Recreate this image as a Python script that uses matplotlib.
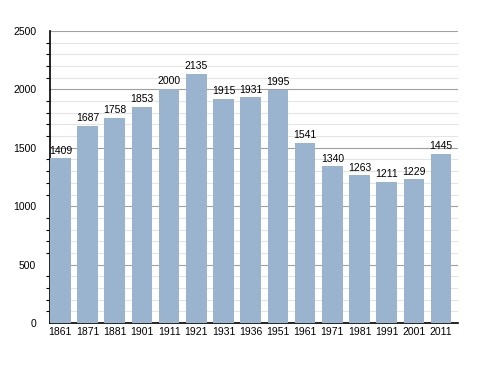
import matplotlib
matplotlib.use("Agg")
import matplotlib.pyplot as plt
from matplotlib.ticker import MultipleLocator

years = ["1861", "1871", "1881", "1901", "1911", "1921", "1931", "1936", "1951",
         "1961", "1971", "1981", "1991", "2001", "2011"]
population = [1409, 1687, 1758, 1853, 2000, 2135, 1915, 1931, 1995,
              1541, 1340, 1263, 1211, 1229, 1445]

plt.rcParams['font.family'] = ['Liberation Sans', 'DejaVu Sans']
fig = plt.figure(figsize=(4.88, 3.73), dpi=100)
ax = fig.add_axes([50/488, 1-323/373, 408/488, 292/373])

x = list(range(len(years)))
bw = 0.76
ax.bar(x, population, width=bw, align='edge', color='#9AB3CF', zorder=3)
for xi, v in zip(x, population):
    ax.text(xi + bw/2, v + 25, str(v), ha='center', va='bottom', fontsize=7.5, zorder=4)

ax.set_xlim(0, len(years))
ax.set_ylim(0, 2500)
ax.set_xticks([xi + bw/2 for xi in x])
ax.set_xticklabels(years, fontsize=7.5)
ax.yaxis.set_major_locator(MultipleLocator(500))
ax.yaxis.set_minor_locator(MultipleLocator(100))
ax.tick_params(axis='y', labelsize=7.5, length=0, pad=10)
ax.tick_params(axis='y', which='minor', length=3, direction='out', width=0.8)
ax.tick_params(axis='x', length=0, pad=3)
ax.grid(axis='y', which='major', color='#a0a0a0', lw=0.8, zorder=1)
ax.grid(axis='y', which='minor', color='#e4e4e4', lw=0.8, zorder=0)
for s in ['top', 'right']:
    ax.spines[s].set_visible(False)
ax.spines['left'].set_linewidth(1.2)
ax.spines['bottom'].set_linewidth(1.2)
fig.savefig("out.png", dpi=100)
